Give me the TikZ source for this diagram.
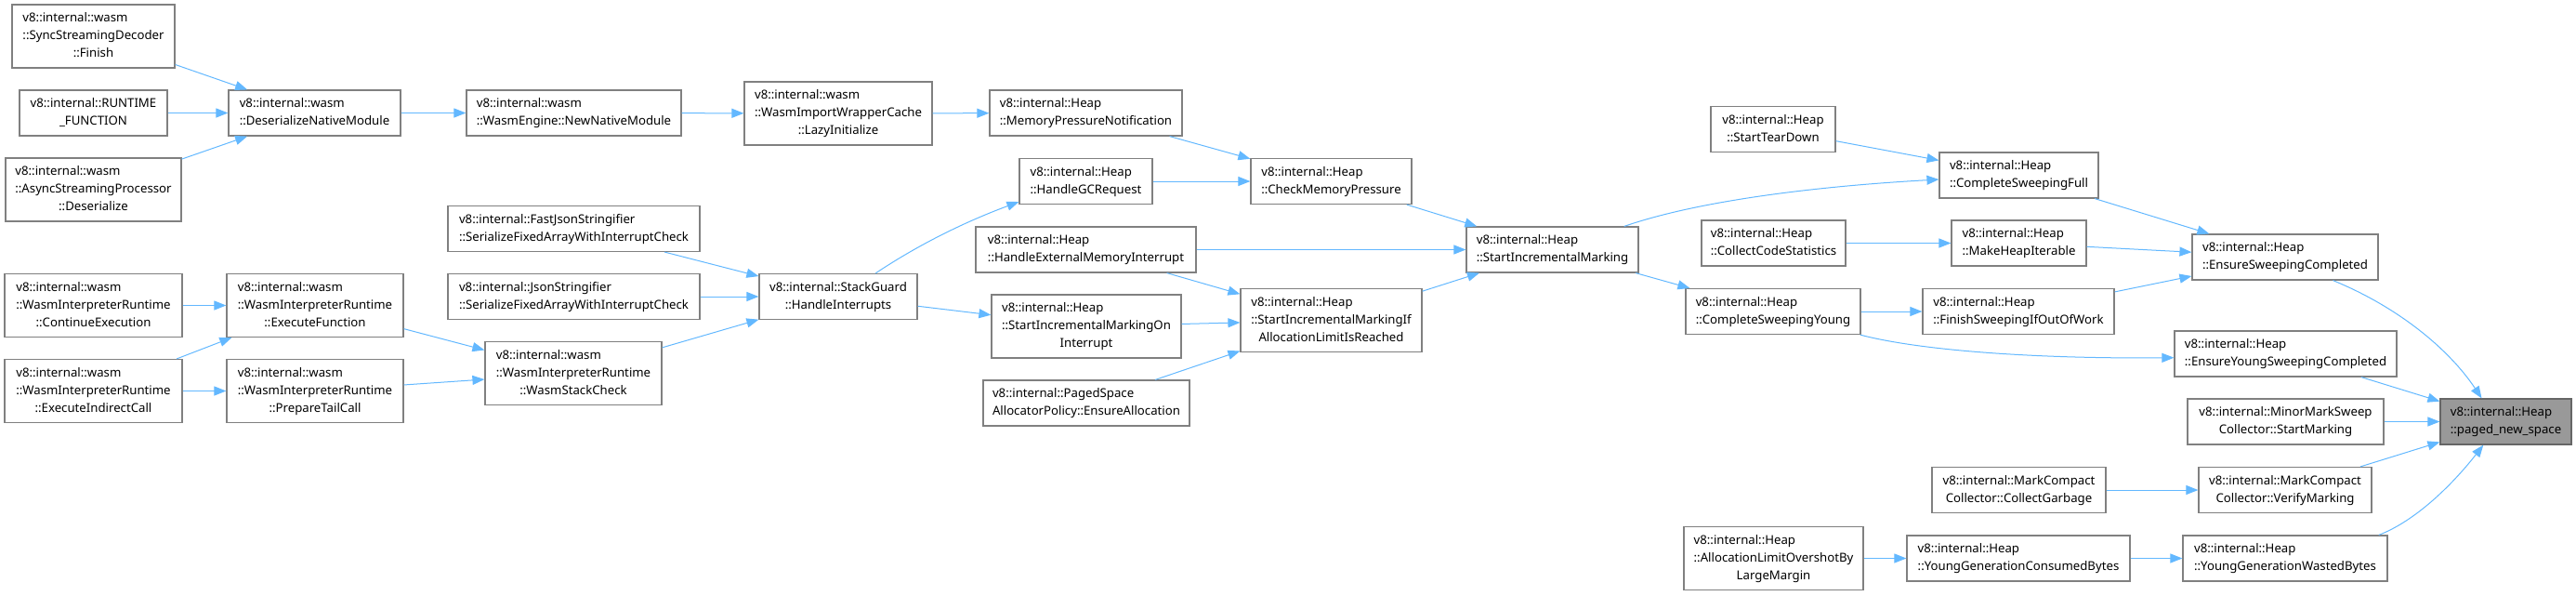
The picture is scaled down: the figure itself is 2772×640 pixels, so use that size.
\documentclass[tikz,border=0pt]{standalone}
\usepackage{fontspec}
\setmainfont{Noto Sans}
\usetikzlibrary{arrows.meta}
\definecolor{EdgeBlue}{HTML}{63B8FF}
\definecolor{BoxLine}{HTML}{808080}
\definecolor{FocusLine}{HTML}{666666}
\definecolor{FocusFill}{HTML}{999999}
\newcommand{\lbl}[2]{\begin{tabular}{@{}l@{}}#1\\\multicolumn{1}{@{}c@{}}{#2}\end{tabular}}

\begin{document}
\begin{tikzpicture}[x=1pt,y=-1pt,
box/.style={draw=BoxLine,line width=1.2pt,fill=white,minimum height=49pt,inner sep=0pt,font=\fontsize{13.2}{19}\selectfont},
tall/.style={box,minimum height=68pt},
focus/.style={box,draw=FocusLine,fill=FocusFill},
arr/.style={-{Triangle[length=13pt,width=10pt]},line width=1pt,draw=EdgeBlue}
]
\useasboundingbox (0,0) rectangle (2772,640);
% wasm callers
\node[tall,minimum width=175] (finish) at (100.5,39) {\lbl{v8::internal::wasm\\::SyncStreamingDecoder}{::Finish}};
\node[box,minimum width=159] (runtime) at (100.5,121.5) {\lbl{v8::internal::RUNTIME}{\_FUNCTION}};
\node[tall,minimum width=189] (asyncdes) at (100.5,204) {\lbl{v8::internal::wasm\\::AsyncStreamingProcessor}{::Deserialize}};
\node[box,minimum width=185] (desnative) at (338.5,121.5) {\lbl{v8::internal::wasm}{::DeserializeNativeModule}};
\node[box,minimum width=231] (newnative) at (617.5,121.5) {\lbl{v8::internal::wasm}{::WasmEngine::NewNativeModule}};
\node[tall,minimum width=202] (lazyinit) at (902,122) {\lbl{v8::internal::wasm\\::WasmImportWrapperCache}{::LazyInitialize}};
\node[box,minimum width=207] (mempress) at (1168.5,121.5) {\lbl{v8::internal::Heap}{::MemoryPressureNotification}};
\node[box,minimum width=271] (fastjson) at (617.5,246) {\lbl{v8::internal::FastJsonStringifier}{::SerializeFixedArrayWithInterruptCheck}};
\node[box,minimum width=271] (jsonstr) at (617.5,319) {\lbl{v8::internal::JsonStringifier}{::SerializeFixedArrayWithInterruptCheck}};
\node[box,minimum width=170] (stackguard) at (902,319) {\lbl{v8::internal::StackGuard}{::HandleInterrupts}};
\node[tall,minimum width=191] (contexec) at (100.5,328.5) {\lbl{v8::internal::wasm\\::WasmInterpreterRuntime}{::ContinueExecution}};
\node[tall,minimum width=191] (execind) at (100.5,420.5) {\lbl{v8::internal::wasm\\::WasmInterpreterRuntime}{::ExecuteIndirectCall}};
\node[tall,minimum width=190] (execfunc) at (339,328.5) {\lbl{v8::internal::wasm\\::WasmInterpreterRuntime}{::ExecuteFunction}};
\node[tall,minimum width=190] (preptail) at (339,420.5) {\lbl{v8::internal::wasm\\::WasmInterpreterRuntime}{::PrepareTailCall}};
\node[tall,minimum width=190] (stackcheck) at (617,401.5) {\lbl{v8::internal::wasm\\::WasmInterpreterRuntime}{::WasmStackCheck}};
% heap marking
\node[box,minimum width=143] (handlegc) at (1168.5,195) {\lbl{v8::internal::Heap}{::HandleGCRequest}};
\node[box,minimum width=173] (checkmem) at (1432.5,195) {\lbl{v8::internal::Heap}{::CheckMemoryPressure}};
\node[box,minimum width=237] (extmem) at (1168.5,268.5) {\lbl{v8::internal::Heap}{::HandleExternalMemoryInterrupt}};
\node[tall,minimum width=204] (oninterrupt) at (1169,351) {\lbl{v8::internal::Heap\\::StartIncrementalMarkingOn}{Interrupt}};
\node[box,minimum width=222] (pagedspace) at (1169,433.5) {\lbl{v8::internal::PagedSpace}{AllocatorPolicy::EnsureAllocation}};
\node[tall,minimum width=195] (iflimit) at (1432.5,344.5) {\lbl{v8::internal::Heap\\::StartIncrementalMarkingIf}{AllocationLimitIsReached}};
\node[box,minimum width=185] (startinc) at (1670.5,268.5) {\lbl{v8::internal::Heap}{::StartIncrementalMarking}};
% sweeping
\node[box,minimum width=134] (teardown) at (1908,139) {\lbl{v8::internal::Heap}{::StartTearDown}};
\node[box,minimum width=171] (sweepfull) at (2172.5,188.5) {\lbl{v8::internal::Heap}{::CompleteSweepingFull}};
\node[box,minimum width=155] (codestats) at (1908.5,261.5) {\lbl{v8::internal::Heap}{::CollectCodeStatistics}};
\node[box,minimum width=145] (iterable) at (2172.5,261.5) {\lbl{v8::internal::Heap}{::MakeHeapIterable}};
\node[box,minimum width=188] (sweepyoung) at (1908,335) {\lbl{v8::internal::Heap}{::CompleteSweepingYoung}};
\node[box,minimum width=206] (finishoow) at (2172,335) {\lbl{v8::internal::Heap}{::FinishSweepingIfOutOfWork}};
\node[box,minimum width=200] (ensuresweep) at (2459,276.5) {\lbl{v8::internal::Heap}{::EnsureSweepingCompleted}};
\node[box,minimum width=239] (ensureyoung) at (2459.5,380.5) {\lbl{v8::internal::Heap}{::EnsureYoungSweepingCompleted}};
\node[box,minimum width=211] (minormark) at (2459.5,453.5) {\lbl{v8::internal::MinorMarkSweep}{Collector::StartMarking}};
\node[focus,minimum width=141] (pagednew) at (2696.5,453.5) {\lbl{v8::internal::Heap}{::paged\_new\_space}};
\node[box,minimum width=187] (collectgc) at (2172.5,527) {\lbl{v8::internal::MarkCompact}{Collector::CollectGarbage}};
\node[box,minimum width=186] (verify) at (2459,527) {\lbl{v8::internal::MarkCompact}{Collector::VerifyMarking}};
\node[tall,minimum width=193] (overshot) at (1908.5,600.5) {\lbl{v8::internal::Heap\\::AllocationLimitOvershotBy}{LargeMargin}};
\node[box,minimum width=240] (consumed) at (2172,600.5) {\lbl{v8::internal::Heap}{::YoungGenerationConsumedBytes}};
\node[box,minimum width=220] (wasted) at (2459,600.5) {\lbl{v8::internal::Heap}{::YoungGenerationWastedBytes}};
% calls
\draw[arr] (finish) -- (desnative);
\draw[arr] (runtime) -- (desnative);
\draw[arr] (asyncdes) -- (desnative);
\draw[arr] (desnative) -- (newnative);
\draw[arr] (newnative) -- (lazyinit);
\draw[arr] (lazyinit) -- (mempress);
\draw[arr] (mempress) -- (checkmem);
\draw[arr] (handlegc) -- (checkmem);
\draw[arr] (fastjson) -- (stackguard);
\draw[arr] (jsonstr) -- (stackguard);
\draw[arr] (stackcheck) -- (stackguard);
\draw[arr] (contexec) -- (execfunc);
\draw[arr] (execind) -- (execfunc);
\draw[arr] (execind) -- (preptail);
\draw[arr] (execfunc) -- (stackcheck);
\draw[arr] (preptail) -- (stackcheck);
\draw[arr] (stackguard.32) .. controls (990,262) and (1040,238) .. (handlegc.197);
\draw[arr] (stackguard) -- (oninterrupt);
\draw[arr] (checkmem) -- (startinc);
\draw[arr] (extmem) -- (startinc);
\draw[arr] (extmem) -- (iflimit);
\draw[arr] (oninterrupt) -- (iflimit);
\draw[arr] (pagedspace) -- (iflimit);
\draw[arr] (iflimit) -- (startinc);
\draw[arr] (teardown) -- (sweepfull);
\draw[arr] (startinc.18) .. controls (1830,215) and (1960,200) .. (sweepfull.183);
\draw[arr] (startinc) -- (sweepyoung);
\draw[arr] (codestats) -- (iterable);
\draw[arr] (sweepyoung) -- (finishoow);
\draw[arr] (sweepyoung.-15) .. controls (2070,378) and (2200,386) .. (ensureyoung.182);
\draw[arr] (sweepfull) -- (ensuresweep);
\draw[arr] (iterable) -- (ensuresweep);
\draw[arr] (finishoow) -- (ensuresweep);
\draw[arr] (ensuresweep.-26) .. controls (2580,330) and (2635,375) .. (pagednew.136);
\draw[arr] (ensureyoung) -- (pagednew);
\draw[arr] (minormark) -- (pagednew);
\draw[arr] (verify) -- (pagednew);
\draw[arr] (wasted.14) .. controls (2600,560) and (2640,520) .. (pagednew.226);
\draw[arr] (collectgc) -- (verify);
\draw[arr] (overshot) -- (consumed);
\draw[arr] (consumed) -- (wasted);
\end{tikzpicture}
\end{document}
